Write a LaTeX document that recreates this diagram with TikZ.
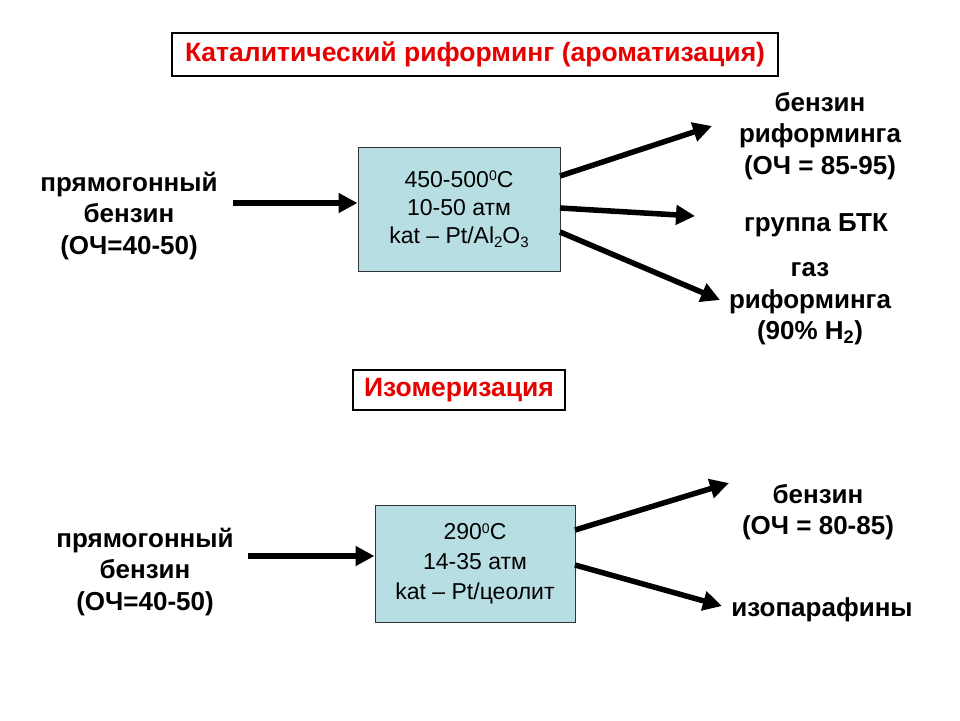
\documentclass[tikz,border=0pt]{standalone}
\usepackage{fontspec}
\setmainfont{Liberation Sans}
\usetikzlibrary{arrows.meta,calc}
\definecolor{boxblue}{RGB}{183,222,226}
\definecolor{titlered}{RGB}{230,0,0}
\newcommand{\degsup}{\raisebox{6.5pt}{\fontsize{14}{14}\selectfont 0}}
\newcommand{\lowsub}[1]{\raisebox{-4pt}{\fontsize{15}{15}\selectfont #1}}
\begin{document}
\begin{tikzpicture}[x=1pt,y=-1pt,
  lbl/.style={font=\fontsize{26}{31.5}\selectfont\bfseries,align=center,inner sep=0pt},
  ttl/.style={draw=black,line width=2pt,fill=white,text=titlered,font=\fontsize{26.5}{30}\selectfont\bfseries,inner sep=0pt},
  proc/.style={draw=black!80,line width=1pt,fill=boxblue,align=center,inner sep=0pt},
  flow/.style={line width=5.5pt,-{Triangle[length=19pt,width=19pt]}}]
\useasboundingbox (0,0) rectangle (960,720);
% titles
\node[ttl,minimum width=606pt,minimum height=43pt] (t1) at (475,54.5) {Каталитический риформинг (ароматизация)};
\node[ttl,minimum width=212pt,minimum height=40pt] (t2) at (459,390) {Изомеризация};
% upper section
\node[lbl] (in1) at (129,216) {прямогонный\\бензин\\(ОЧ=40-50)};
\node[proc,minimum width=202pt,minimum height=124pt,font=\fontsize{23}{28}\selectfont] (b1) at (459,209)
  {450-500\degsup C\\10-50 атм\\kat – Pt/Al\lowsub{2}O\lowsub{3}};
\node[lbl] (o1) at (820,136) {бензин\\риформинга\\(ОЧ = 85-95)};
\node[lbl] (o2) at (816,225) {группа БТК};
\node[lbl] (o3) at (810,304) {газ\\риформинга\\(90\% H\textsubscript{2})};
\coordinate (s1) at (233,203);
\coordinate (e1a) at (560,176);
\coordinate (e1b) at (560,208);
\coordinate (e1c) at (560,232);
\coordinate (p1a) at (712,126);
\coordinate (p1b) at (695,216);
\coordinate (p1c) at (720,300);
\draw[flow] (s1) -- (s1 -| b1.west);
\draw[flow] (e1a) -- (p1a);
\draw[flow] (e1b) -- (p1b);
\draw[flow] (e1c) -- (p1c);
% lower section
\node[lbl] (in2) at (145,572) {прямогонный\\бензин\\(ОЧ=40-50)};
\node[proc,minimum width=200pt,minimum height=117pt,font=\fontsize{23}{30}\selectfont] (b2) at (475,564)
  {290\degsup C\\14-35 атм\\kat – Pt/цеолит};
\node[lbl] (o4) at (818,512) {бензин\\(ОЧ = 80-85)};
\node[lbl] (o5) at (822,610) {изопарафины};
\coordinate (s2) at (248,556);
\coordinate (e2a) at (575,530);
\coordinate (e2b) at (575,565);
\coordinate (p2a) at (729,483);
\coordinate (p2b) at (722,606);
\draw[flow] (s2) -- (s2 -| b2.west);
\draw[flow] (e2a) -- (p2a);
\draw[flow] (e2b) -- (p2b);
\end{tikzpicture}
\end{document}
